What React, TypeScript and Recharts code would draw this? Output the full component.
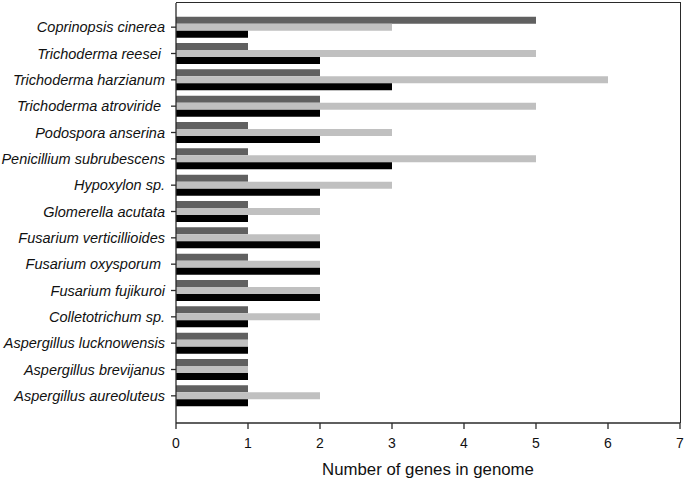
import React from 'react';
import { BarChart, Bar, XAxis, YAxis } from 'recharts';

const species = [
  'Coprinopsis cinerea',
  'Trichoderma reesei\u00a0',
  'Trichoderma harzianum',
  'Trichoderma atroviride\u00a0',
  'Podospora anserina',
  'Penicillium subrubescens',
  'Hypoxylon sp.',
  'Glomerella acutata',
  'Fusarium verticillioides',
  'Fusarium oxysporum\u00a0',
  'Fusarium fujikuroi',
  'Colletotrichum sp.',
  'Aspergillus lucknowensis',
  'Aspergillus brevijanus',
  'Aspergillus aureoluteus',
];

const seriesA = [5, 1, 2, 2, 1, 1, 1, 1, 1, 1, 1, 1, 1, 1, 1];
const seriesB = [3, 5, 6, 5, 3, 5, 3, 2, 2, 2, 2, 2, 1, 1, 2];
const seriesC = [1, 2, 3, 2, 2, 3, 2, 1, 2, 2, 2, 1, 1, 1, 1];

const xTicks = [0, 1, 2, 3, 4, 5, 6, 7];

const data = species.map((name, i) => ({
  name,
  a: seriesA[i],
  b: seriesB[i],
  c: seriesC[i],
}));

const axisColor = '#2a2a2a';
const font = '"Liberation Sans", Arial, sans-serif';

const App: React.FC = () => {
  return (
    <div style={{ position: 'absolute', left: 0, top: 0, width: 685, height: 479, background: '#fff' }}>
      <BarChart
        width={685}
        height={479}
        data={data}
        layout="vertical"
        margin={{ top: 3, right: 5, left: 0, bottom: 0 }}
        barCategoryGap="10%"
        barGap={0}
      >
        <XAxis
          type="number"
          domain={[0, 7]}
          ticks={xTicks}
          height={56}
          axisLine={{ stroke: axisColor, strokeWidth: 1.3 }}
          tickLine={{ stroke: axisColor, strokeWidth: 1.3 }}
          tickSize={6}
          tickMargin={9}
          tick={{ fill: '#111', fontSize: 14, fontFamily: font }}
          label={{
            value: 'Number of genes in genome',
            position: 'insideBottom',
            offset: 4,
            fill: '#111',
            fontSize: 16.8,
            fontFamily: font,
          }}
        />
        <YAxis
          type="category"
          dataKey="name"
          width={176}
          interval={0}
          padding={{ top: 11, bottom: 14 }}
          axisLine={{ stroke: axisColor, strokeWidth: 1.3 }}
          tickLine={{ stroke: axisColor, strokeWidth: 1.3 }}
          tickSize={5}
          tickMargin={6}
          tick={{ fill: '#111', fontSize: 14.5, fontFamily: font, fontStyle: 'italic' }}
        />
        <Bar dataKey="a" fill="#606060" isAnimationActive={false} />
        <Bar dataKey="b" fill="#c0c0c0" isAnimationActive={false} />
        <Bar dataKey="c" fill="#000000" isAnimationActive={false} />
      </BarChart>
      <div
        style={{
          position: 'absolute',
          left: 176,
          top: 2,
          width: 505,
          height: 421,
          boxSizing: 'border-box',
          borderTop: `1.3px solid ${axisColor}`,
          borderRight: `1.3px solid ${axisColor}`,
          pointerEvents: 'none',
        }}
      />
    </div>
  );
};

export default App;
